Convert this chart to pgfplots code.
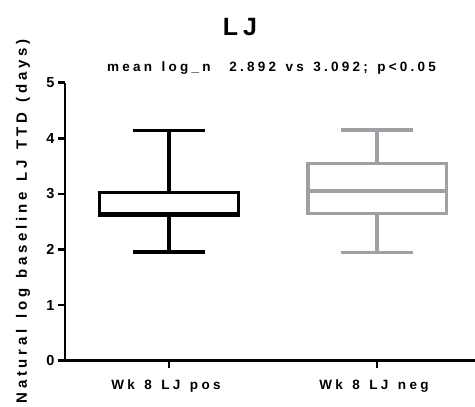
\documentclass[border=0pt]{standalone}
\usepackage{fontspec}
\setmainfont{Liberation Sans}
\newfontfamily\lsf[LetterSpace=25]{Liberation Sans}
\newfontfamily\lsfs[LetterSpace=24]{Liberation Sans}
\newfontfamily\lsfy[LetterSpace=25]{Liberation Sans}
\newcommand{\wsp}{\kern0.7em\relax}
\usepackage{pgfplots}
\pgfplotsset{compat=1.18}
\definecolor{boxgrey}{RGB}{160,160,164}
\begin{document}
\begin{tikzpicture}
\begin{axis}[
  scale only axis, width=410pt, height=278pt,
  xmin=-0.5, xmax=1.471, ymin=0, ymax=5,
  axis lines*=left,
  axis line style={line width=2.7pt, black},
  xtick={0,1}, xticklabels={Wk\wsp 8\wsp LJ\wsp pos, Wk\wsp 8\wsp LJ\wsp neg},
  ytick={0,1,2,3,4,5},
  tick align=outside, major tick length=7pt,
  every tick/.style={black, line width=2.5pt},
  /pgf/number format/assume math mode=true,
  x tick label style={font=\lsf\bfseries\fontsize{13.5}{16}\selectfont, yshift=-8pt, xshift=-3pt},
  y tick label style={font=\bfseries\fontsize{14.5}{16}\selectfont},
  unbounded coords=jump,
  clip=false,
]
% Wk 8 LJ pos (black)
\addplot[draw=black, line width=3.3pt, line cap=rect, line join=miter] coordinates {
  (-0.3325,2.62) (0.3325,2.62) (0.3325,3.03) (-0.3325,3.03) (-0.3325,2.62)
  (0,nan)
  (-0.3325,2.645) (0.3325,2.645)
  (0,nan)
  (0,3.03) (0,4.14) (0,nan) (-0.165,4.14) (0.165,4.14)
  (0,nan)
  (0,2.62) (0,1.955) (0,nan) (-0.165,1.955) (0.165,1.955)
};
% Wk 8 LJ neg (grey)
\addplot[draw=boxgrey, line width=3.3pt, line cap=rect, line join=miter] coordinates {
  (0.6675,2.65) (1.3325,2.65) (1.3325,3.55) (0.6675,3.55) (0.6675,2.65)
  (1,nan)
  (0.6675,3.05) (1.3325,3.05)
  (1,nan)
  (1,3.55) (1,4.15) (1,nan) (0.835,4.15) (1.165,4.15)
  (1,nan)
  (1,2.65) (1,1.95) (1,nan) (0.835,1.95) (1.165,1.95)
};
\end{axis}
\node[anchor=base, font=\bfseries\fontsize{25}{28}\selectfont] at (175pt,324.7pt) {\addfontfeature{LetterSpace=20}LJ};
\node[anchor=base west, inner sep=0pt, font=\lsfs\bfseries\fontsize{13.5}{16}\selectfont] at (42pt,289pt) {mean\wsp log\_n\wsp\wsp 2.892\wsp vs\wsp 3.092;\wsp p<0.05};
\node[rotate=90, anchor=base west, inner sep=0pt, font=\lsfy\bfseries\fontsize{15}{17}\selectfont] at (-38pt,-43pt) {Natural\wsp log\wsp baseline\wsp LJ\wsp TTD\wsp (days)};
\pgfresetboundingbox
\path[use as bounding box] (-65pt,-46.3pt) rectangle (410pt,360.7pt);
\end{tikzpicture}
\end{document}
